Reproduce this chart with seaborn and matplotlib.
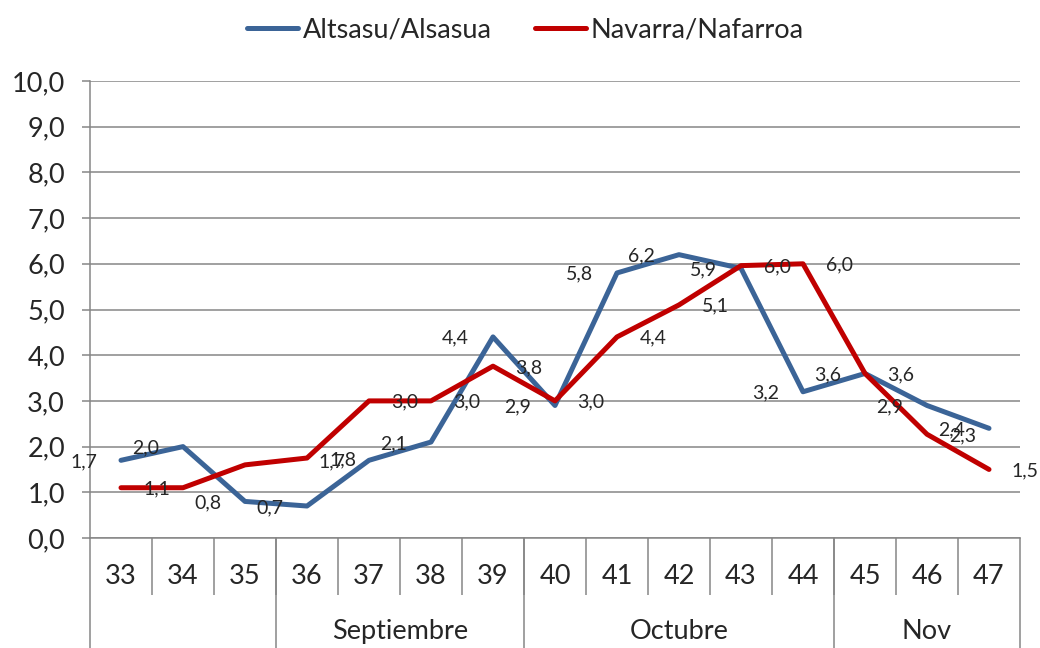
import numpy as np
import pandas as pd
import seaborn as sns
import matplotlib.pyplot as plt
from matplotlib.ticker import FuncFormatter

# data
weeks = ['33', '34', '35', '36', '37', '38', '39', '40', '41', '42', '43', '44', '45', '46', '47']
altsasu = [1.7, 2.0, 0.8, 0.7, 1.7, 2.1, 4.4, 2.9, 5.8, 6.2, 5.9, 3.2, 3.6, 2.9, 2.4]
navarra = [1.1, 1.1, 1.6, 1.75, 3.0, 3.0, 3.76, 3.0, 4.4, 5.1, 5.96, 6.0, 3.6, 2.27, 1.5]
months = ['', 'Septiembre', 'Octubre', 'Nov']
month_start = [0, 3, 7, 12, 15]   # week index where each month group begins (last = end)
nav_hidden = ['34', '35']          # labels not shown in the original

blue = '#3B6497'
red = '#C00000'
grey = '#868686'

sns.set_theme(style='white')
plt.rcParams['font.family'] = ['Lato', 'DejaVu Sans']

n = len(weeks)
df = pd.DataFrame({
    'x': list(range(n)) * 2,
    'value': altsasu + navarra,
    'serie': ['Altsasu/Alsasua'] * n + ['Navarra/Nafarroa'] * n,
})

fig = plt.figure(figsize=(10.4, 6.48), dpi=100)
ax = fig.add_axes([90 / 1040, 110 / 648, 930 / 1040, 457 / 648])
sns.lineplot(data=df, x='x', y='value', hue='serie', palette=[blue, red],
             linewidth=3.6, ax=ax)

# legend on top, centred on the figure
handles, labels = ax.get_legend_handles_labels()
ax.get_legend().remove()
fig.legend(handles, labels, loc='upper center', bbox_to_anchor=(0.505, 1.01), ncol=2,
           frameon=False, fontsize=19.5, handlelength=1.9, columnspacing=1.6,
           handletextpad=0.15)

ax.set_xlim(-0.5, n - 0.5)
ax.set_ylim(0, 10)
ax.set_yticks(np.arange(0, 11, 1))
ax.yaxis.set_major_formatter(FuncFormatter(lambda v, p: ('%.1f' % v).replace('.', ',')))
ax.yaxis.grid(True, color=grey, lw=1.1)
ax.set_axisbelow(True)
ax.set_xlabel('')
ax.set_ylabel('')
for s in ['top', 'right']:
    ax.spines[s].set_visible(False)
for s in ['left', 'bottom']:
    ax.spines[s].set_color(grey)
    ax.spines[s].set_linewidth(1.1)
ax.tick_params(axis='y', left=True, length=6, width=1.1, color=grey, labelsize=19.5, pad=12)

# category axis: weeks row + month row
ax.set_xticks([])
ax.set_xticks(np.arange(0.5, n - 0.5, 1), minor=True)
ax.tick_params(axis='x', which='minor', bottom=True, length=41, width=1.1, color=grey,
               direction='out')
tr = ax.get_xaxis_transform()
for i, w in enumerate(weeks):
    ax.text(i, -0.084, w, transform=tr, ha='center', va='center', fontsize=19.5)
for k, m in enumerate(months):
    a, b = month_start[k], month_start[k + 1]
    ax.text((a + b - 1) / 2, -0.205, m, transform=tr, ha='center', va='center', fontsize=19.5)
for b in month_start:
    ax.plot([b - 0.5, b - 0.5], [0, -0.245], transform=tr, color=grey, lw=1.1,
            clip_on=False)

# data labels
fmt = lambda v: ('%.1f' % v).replace('.', ',')
for i, v in enumerate(altsasu):
    ax.annotate(fmt(v), (i, v), xytext=(-27, -1), textcoords='offset points',
                ha='center', va='center', fontsize=14)
for i, v in enumerate(navarra):
    if weeks[i] in nav_hidden:
        continue
    ax.annotate(fmt(v), (i, v), xytext=(26, -1), textcoords='offset points',
                ha='center', va='center', fontsize=14)

fig.savefig('out.png', dpi=100)
